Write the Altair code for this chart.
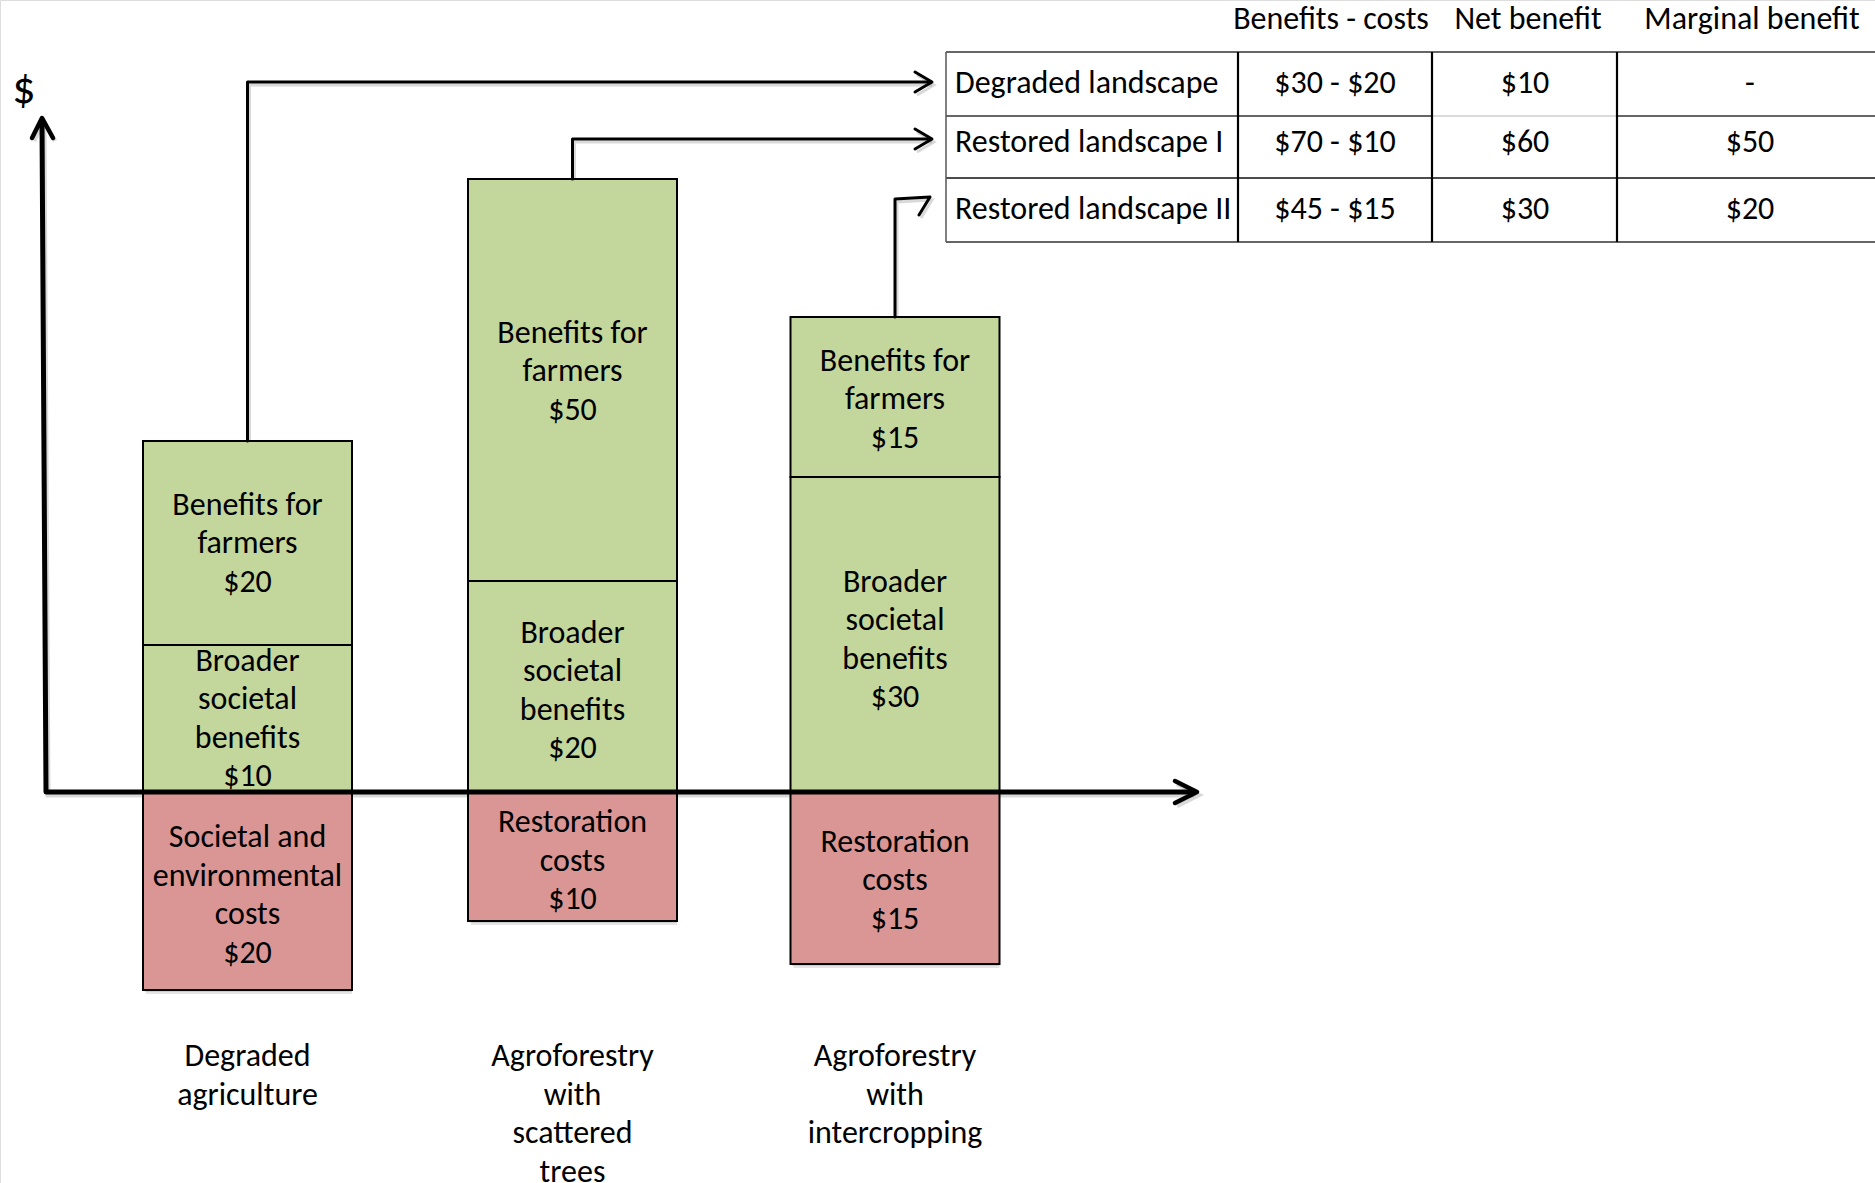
import altair as alt
import pandas as pd

FONT = "Carlito, Lato, sans-serif"
FS = 32
LH = 38.5
GREEN = "#C3D69B"
RED = "#D99694"

# ---- bar data (values from the labels; drawn extents, diagram units) ----
categories = ["Degraded agriculture", "Agroforestry with scattered trees", "Agroforestry with intercropping"]
category_lines = [["Degraded", "agriculture"],
                  ["Agroforestry", "with", "scattered", "trees"],
                  ["Agroforestry", "with", "intercropping"]]
bar_centre = [24.75, 57.25, 89.5]
bar_half_width = 10.45
broader_value = [10, 20, 30]
farmers_value = [20, 50, 15]
costs_value = [20, 10, 15]
broader_drawn = [14.7, 21.1, 31.5]
farmers_drawn = [20.4, 40.2, 16.0]
costs_drawn = [19.8, 12.9, 17.2]
cost_names = ["Societal and\nenvironmental\ncosts", "Restoration\ncosts", "Restoration\ncosts"]
# small vertical text nudges (broader, farmers, costs per bar)
label_nudge = [[0.0, 0.0, -0.4], [-0.4, 0.9, -0.4], [-0.5, -0.2, -0.2]]

# ---- table ----
table_header = ["Benefits - costs", "Net benefit", "Marginal benefit"]
landscapes = ["Degraded landscape", "Restored landscape I", "Restored landscape II"]
table_col_edges = [94.6, 123.8, 143.2, 161.7, 187.5]
table_row_edges = [74.0, 67.6, 61.4, 55.0]
table_row_text_y = [70.9, 65.0, 58.3]
table_header_x = [133.1, 152.8, 175.2]
table_header_y = 77.3
table_text_x = [95.5, 133.5, 152.5, 175.0]

# ---- build frames ----
rects = []
for i in range(3):
    cx = bar_centre[i]
    x0, x1 = cx - bar_half_width, cx + bar_half_width
    b1 = broader_drawn[i]
    f1 = b1 + farmers_drawn[i]
    c0 = -costs_drawn[i]
    rects.append(dict(x0=x0, x1=x1, y0=0, y1=b1, kind="benefit", nudge=label_nudge[i][0],
                      label=f"Broader\nsocietal\nbenefits\n${broader_value[i]}"))
    rects.append(dict(x0=x0, x1=x1, y0=b1, y1=f1, kind="benefit", nudge=label_nudge[i][1],
                      label=f"Benefits for\nfarmers\n${farmers_value[i]}"))
    rects.append(dict(x0=x0, x1=x1, y0=c0, y1=0, kind="cost", nudge=label_nudge[i][2],
                      label=f"{cost_names[i]}\n${costs_value[i]}"))
bars = pd.DataFrame(rects)
bars["xm"] = (bars.x0 + bars.x1) / 2
bars["n"] = bars.label.str.count("\n") + 1
# first text line so that the block is centred in its box
bars["ym"] = (bars.y0 + bars.y1) / 2 + (bars.n - 1) * (LH / 10) / 2 + bars.nudge

cat_df = pd.DataFrame({
    "x": bar_centre,
    "label": ["\n".join(l) for l in category_lines],
})
cat_df["y"] = -26.4

# table values computed from bar values
total_benefit = [b + f for b, f in zip(broader_value, farmers_value)]
net = [t - c for t, c in zip(total_benefit, costs_value)]
bmc = [f"${t} - ${c}" for t, c in zip(total_benefit, costs_value)]
net_s = [f"${n}" for n in net]
marg = ["-"] + [f"${n - net[0]}" for n in net[1:]]

cells = []
for r in range(3):
    cells.append(dict(x=table_text_x[0], y=table_row_text_y[r], t=landscapes[r], al="left"))
    cells.append(dict(x=table_text_x[1], y=table_row_text_y[r], t=bmc[r], al="center"))
    cells.append(dict(x=table_text_x[2], y=table_row_text_y[r], t=net_s[r], al="center"))
    cells.append(dict(x=table_text_x[3], y=table_row_text_y[r], t=marg[r], al="center"))
for j in range(3):
    cells.append(dict(x=table_header_x[j], y=table_header_y, t=table_header[j], al="center"))
cells = pd.DataFrame(cells)

# table lines
L, C1, C2, C3, R = table_col_edges
T, R1, R2, B = table_row_edges
tl = [
    dict(x=L, x2=R, y=T, y2=T, c="#333333", w=1.5),
    dict(x=L, x2=C2, y=R1, y2=R1, c="#333333", w=1.5),
    dict(x=C2, x2=C3, y=R1, y2=R1, c="#cfcfcf", w=1.5),
    dict(x=C3, x2=R, y=R1, y2=R1, c="#333333", w=1.5),
    dict(x=L, x2=R, y=R2, y2=R2, c="#111111", w=1.5),
    dict(x=L, x2=R, y=B, y2=B, c="#333333", w=1.5),
    dict(x=L, x2=L, y=B, y2=T, c="#555555", w=1.5),
    dict(x=C1, x2=C1, y=B, y2=T, c="#000000", w=2.2),
    dict(x=C2, x2=C2, y=B, y2=T, c="#000000", w=2.2),
    dict(x=C3, x2=C3, y=B, y2=T, c="#000000", w=2.2),
]
table_lines = pd.DataFrame(tl)

# arrows / axes paths
tops = [b + f for b, f in zip(broader_drawn, farmers_drawn)]
paths = {
    "axes": ([(4.2, 66.9), (4.6, 0.0), (119.2, 0.0)], 5.0),
    "yhead": ([(3.2, 65.4), (4.2, 67.4), (5.3, 65.4)], 4.5),
    "xhead": ([(117.5, 1.1), (119.7, 0.0), (117.5, -1.1)], 4.5),
    "c1": ([(bar_centre[0], tops[0]), (bar_centre[0], 71.0), (93.0, 71.0)], 3.0),
    "h1": ([(91.5, 72.0), (93.2, 71.0), (91.5, 70.0)], 3.0),
    "c2": ([(bar_centre[1], tops[1]), (bar_centre[1], 65.3), (93.0, 65.3)], 3.0),
    "h2": ([(91.5, 66.3), (93.2, 65.3), (91.5, 64.3)], 3.0),
    "c3": ([(bar_centre[2], tops[2]), (bar_centre[2], 59.3), (93.0, 59.5), (91.9, 57.7)], 3.0),
}
pr = []
for name, (pts, w) in paths.items():
    for k, (x, y) in enumerate(pts):
        pr.append(dict(path=name, i=k, x=x, y=y, w=w))
path_df = pd.DataFrame(pr)

xs = alt.Scale(domain=[0, 187.5], nice=False, zero=False)
ys = alt.Scale(domain=[-39.1, 79.2], nice=False, zero=False)

def X(f):
    return alt.X(f, scale=xs, axis=None)

def Y(f):
    return alt.Y(f, scale=ys, axis=None)

base_bars = alt.Chart(bars)
shadow1 = base_bars.mark_rect(fill="#000000", opacity=0.10, xOffset=3, yOffset=4).encode(
    x=X("x0:Q"), x2="x1:Q", y=Y("y0:Q"), y2="y1:Q")
shadow2 = base_bars.mark_rect(fill="#000000", opacity=0.10, xOffset=1.5, yOffset=2).encode(
    x=X("x0:Q"), x2="x1:Q", y=Y("y0:Q"), y2="y1:Q")
rect_layer = base_bars.mark_rect(stroke="#000000", strokeWidth=2).encode(
    x=X("x0:Q"), x2="x1:Q", y=Y("y0:Q"), y2="y1:Q",
    fill=alt.Fill("kind:N", scale=alt.Scale(domain=["benefit", "cost"], range=[GREEN, RED]), legend=None))
bar_text = base_bars.mark_text(font=FONT, fontSize=FS, lineHeight=LH, lineBreak="\n",
                               align="center", baseline="middle", color="#000000").encode(
    x=X("xm:Q"), y=Y("ym:Q"), text="label:N")

cat_text = alt.Chart(cat_df).mark_text(font=FONT, fontSize=FS, lineHeight=LH, lineBreak="\n",
                                       align="center", baseline="middle", color="#000000").encode(
    x=X("x:Q"), y=Y("y:Q"), text="label:N")

path_base = alt.Chart(path_df)
path_shadow = path_base.mark_line(strokeCap="butt", strokeJoin="miter", opacity=0.15,
                                  color="#000000", xOffset=2, yOffset=3).encode(
    x=X("x:Q"), y=Y("y:Q"), detail="path:N", order="i:Q",
    strokeWidth=alt.StrokeWidth("w:Q", scale=None))
path_layer = path_base.mark_line(strokeCap="round", strokeJoin="round", color="#000000").encode(
    x=X("x:Q"), y=Y("y:Q"), detail="path:N", order="i:Q",
    strokeWidth=alt.StrokeWidth("w:Q", scale=None))

tline_layer = alt.Chart(table_lines).mark_rule().encode(
    x=X("x:Q"), x2="x2:Q", y=Y("y:Q"), y2="y2:Q",
    color=alt.Color("c:N", scale=None), strokeWidth=alt.StrokeWidth("w:Q", scale=None))

cell_left = alt.Chart(cells[cells.al == "left"]).mark_text(
    font=FONT, fontSize=FS, align="left", baseline="middle", color="#000000").encode(
    x=X("x:Q"), y=Y("y:Q"), text="t:N")
cell_center = alt.Chart(cells[cells.al == "center"]).mark_text(
    font=FONT, fontSize=FS, align="center", baseline="middle", color="#000000").encode(
    x=X("x:Q"), y=Y("y:Q"), text="t:N")

dollar = alt.Chart(pd.DataFrame({"x": [2.4], "y": [70.3], "t": ["$"]})).mark_text(
    font=FONT, fontSize=46, fontWeight=300, align="center", baseline="middle", color="#000000").encode(
    x=X("x:Q"), y=Y("y:Q"), text="t:N")

chart = alt.layer(
    shadow1, shadow2, path_shadow, rect_layer, path_layer, bar_text, cat_text,
    tline_layer, cell_left, cell_center, dollar
).properties(
    width=1875, height=1183, padding=0,
    autosize=alt.AutoSizeParams(type="none"),
).configure_view(stroke="transparent", strokeWidth=0).configure(background="white")

chart.save("out.html", embed_options={"renderer": "svg", "actions": False})
